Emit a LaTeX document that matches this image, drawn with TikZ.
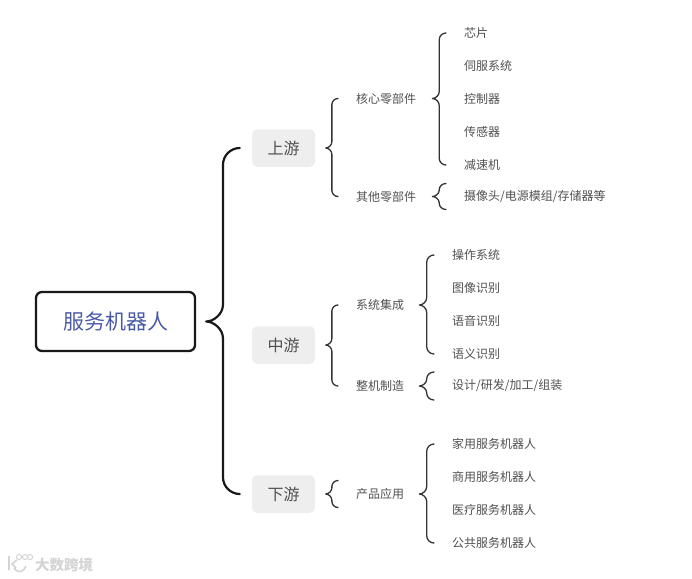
\documentclass[tikz,border=0pt]{standalone}
\usepackage{fontspec}
\setmainfont{Noto Sans CJK SC}
\usetikzlibrary{calc}

\definecolor{inkgray}{HTML}{505050}
\definecolor{rootblue}{HTML}{4A5AA6}
\definecolor{boxgray}{HTML}{EEEEEE}
\definecolor{markgray}{HTML}{D4D4D4}

\tikzset{
 rootbox/.style={draw=black!90,line width=2.3pt,rounded corners=6pt,minimum width=159,minimum height=59,
  text=rootblue,font=\fontsize{21}{24}\selectfont},
 midbox/.style={fill=boxgray,rounded corners=5pt,minimum width=63,minimum height=37.5,
  text=inkgray,font=\fontsize{16}{18}\selectfont},
 subtext/.style={anchor=west,inner sep=0pt,text=inkgray,font=\fontsize{12}{14}\selectfont},
 leaftext/.style={subtext},
 thickbrace/.style={draw=black!90,line width=2.2pt,line cap=round,line join=round},
 thinbrace/.style={draw=black!80,line width=1.3pt,line cap=round,line join=round},
 marktext/.style={inner sep=0pt,anchor=west,text=markgray,font=\fontsize{14.5}{16}\bfseries\selectfont},
}

% parent, first child, last child, tip gap, end gap, extra spread
\newcommand{\bracket}[7][thinbrace]{%
 \draw[#1] let \p1=($(#2.east)+(#5,0)$), \p2=($(#3.west)+(-#6,-#7)$), \p3=($(#4.west)+(-#6,#7)$),
  \n2={0.5*(\x2-\x1)}, \n1={min(\n2,0.48*abs(\y2-\y1),0.48*abs(\y3-\y1))}, \n3={0.45*\n2}, \n4={0.45*\n1} in
  (\x2,\y2) .. controls (\x1+\n2+\n3,\y2) and (\x1+\n2,\y2-\n4) .. (\x1+\n2,\y2-\n1) -- (\x1+\n2,\y1+\n1)
  .. controls (\x1+\n2,\y1+\n4) and (\x1+\n3,\y1) .. (\x1,\y1) .. controls (\x1+\n3,\y1) and (\x1+\n2,\y1-\n4) .. (\x1+\n2,\y1-\n1)
  -- (\x1+\n2,\y3+\n1) .. controls (\x1+\n2,\y3+\n4) and (\x1+\n2+\n3,\y3) .. (\x2,\y3);
}

\begin{document}
\begin{tikzpicture}[x=1pt,y=-1pt]
\useasboundingbox (0,0) rectangle (692,578);

\node[rootbox] (robot) at (115.5,321.5) {服务机器人};

\node[midbox] (up) at (283.5,148) {上游};
\node[midbox] (mid) at (283.5,345) {中游};
\node[midbox] (down) at (283.5,494) {下游};

\bracket[thickbrace]{robot}{up}{down}{10}{12}{0}

% upstream
\node[subtext] (core) at (356,98.5) {核心零部件};
\node[subtext] (other) at (356,196.5) {其他零部件};
\bracket{up}{core}{other}{10.5}{18}{0}

\foreach \name/\y/\txt in {chip/33/芯片,servo/66/伺服系统,ctrl/99/控制器,sensor/132/传感器,reducer/165/减速机}
 \node[leaftext] (\name) at (464,\y) {\txt};
\node[leaftext] (parts) at (464,196.5) {摄像头/电源模组/存储器等};
\bracket{core}{chip}{reducer}{16}{18}{0}
\bracket{other}{parts}{parts}{16}{18}{13}

% midstream
\node[subtext] (integ) at (356,305) {系统集成};
\node[subtext] (build) at (356,386) {整机制造};
\bracket{mid}{integ}{build}{10.5}{18}{0}

\foreach \name/\y/\txt in {os/255/操作系统,image/288/图像识别,voice/321/语音识别,sense/354/语义识别}
 \node[leaftext] (\name) at (452,\y) {\txt};
\node[leaftext] (design) at (452,386) {设计/研发/加工/组装};
\bracket{integ}{os}{sense}{15}{18}{0}
\bracket{build}{design}{design}{15}{18}{14}

% downstream
\node[subtext] (apply) at (356,494) {产品应用};
\bracket{down}{apply}{apply}{10.5}{18}{13.5}

\foreach \name/\y/\txt in {home/444/家用服务机器人,shop/477/商用服务机器人,care/510/医疗服务机器人,public/543/公共服务机器人}
 \node[leaftext] (\name) at (452,\y) {\txt};
\bracket{apply}{home}{public}{15}{18}{0}

% watermark
\draw[markgray,line width=1.6pt] (9,556) -- (9,570) (17,560) -- (12,564) -- (16,568) (14,568) .. controls (18,574) and (24,572) .. (26,566);
\foreach \x in {19,25,30} \draw[markgray,line width=1pt] (\x,557) circle (2.6);
\node[marktext] (mark) at (35,564.5) {大数跨境};

\end{tikzpicture}
\end{document}
